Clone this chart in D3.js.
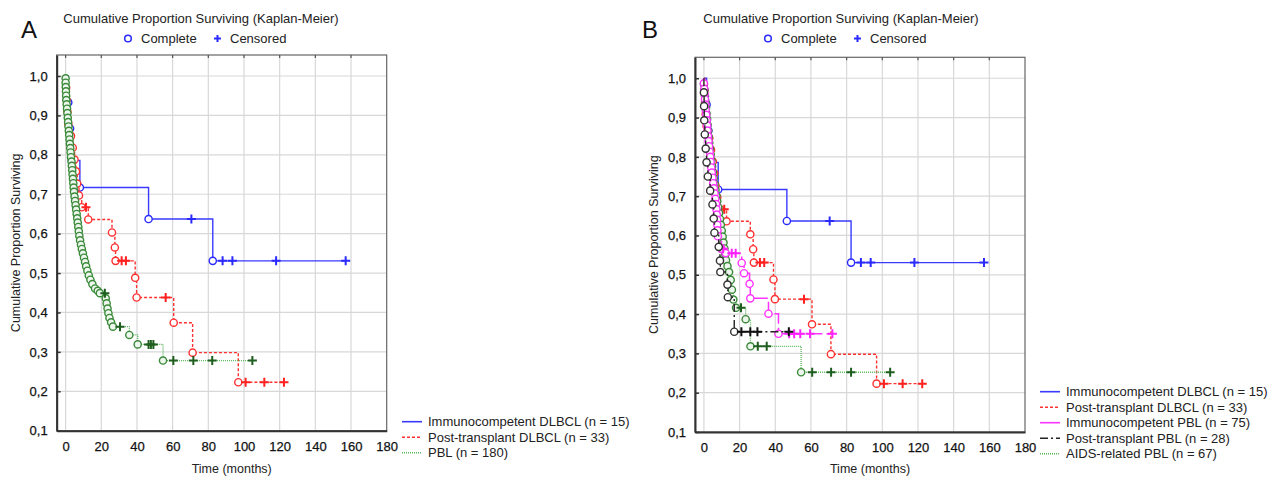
<!DOCTYPE html>
<html>
<head>
<meta charset="utf-8">
<script src="https://cdn.jsdelivr.net/npm/d3@7"></script>
<style>
  body { margin: 0; background: #fff; }
  svg { font-family: "Liberation Sans", Arial, sans-serif; }
</style>
</head>
<body>
<svg id="chart" width="1275" height="478"></svg>
<script>
// axis values
var xTicks = [0, 20, 40, 60, 80, 100, 120, 140, 160, 180];
var yTicks = [0.1, 0.2, 0.3, 0.4, 0.5, 0.6, 0.7, 0.8, 0.9, 1.0];
var yTickLabels = ["0,1", "0,2", "0,3", "0,4", "0,5", "0,6", "0,7", "0,8", "0,9", "1,0"];

// Immunocompetent DLBCL (n = 15) - same in both panels
var immDlbclTime = [1.5, 2.5, 3.5, 8, 46.5, 82.5];
var immDlbclSurv = [0.933, 0.867, 0.786, 0.717, 0.637, 0.531];
var immDlbclCens = [70.5, 88, 93.5, 118, 157];

// Post-transplant DLBCL (n = 33) - same in both panels
var ptDlbclTime = [0.3, 0.6, 1, 1.5, 3, 4, 5, 5.8, 6.5, 7.5, 9, 12.7, 26, 27.6, 28, 39, 39.8, 60.6, 71.2, 96.8];
var ptDlbclSurv = [0.970, 0.939, 0.909, 0.879, 0.848, 0.818, 0.788, 0.758, 0.727, 0.697, 0.667, 0.636, 0.603, 0.565, 0.531, 0.488, 0.438, 0.374, 0.298, 0.223];
var ptDlbclCens = [11.4, 31.4, 33.8, 56.1, 100.9, 111.4, 122.4];

// PBL (n = 180) - panel A
var pblTime = [0, 0, 0.1, 0.2, 0.3, 0.4, 0.6, 0.8, 1.0, 1.2, 1.4, 1.6, 1.8, 2.0, 2.2, 2.4, 2.6, 2.8, 3.0, 3.3,
  3.5, 3.7, 3.9, 4.1, 4.3, 4.5, 4.7, 5.0, 5.3, 5.6, 5.9, 6.2, 6.5, 6.8, 7.1, 7.4, 7.7, 8.1, 8.6, 9.1,
  9.7, 10.3, 10.9, 11.5, 12.2, 13.0, 13.9, 15.0, 16.5, 18.0, 19.2, 22.5, 23.0, 23.5, 24.0, 24.6, 25.5, 26.5, 35.7, 40.4, 54.6];
var pblSurv = [0.994, 0.983, 0.972, 0.961, 0.950, 0.939, 0.928, 0.917, 0.906, 0.894, 0.883, 0.872, 0.861, 0.850, 0.839, 0.828, 0.817, 0.806, 0.794, 0.783,
  0.772, 0.761, 0.750, 0.739, 0.728, 0.717, 0.706, 0.694, 0.683, 0.672, 0.661, 0.650, 0.639, 0.628, 0.617, 0.606, 0.594, 0.583, 0.572, 0.561,
  0.550, 0.539, 0.528, 0.517, 0.506, 0.494, 0.483, 0.472, 0.461, 0.455, 0.449, 0.436, 0.423, 0.410, 0.398, 0.386, 0.375, 0.364, 0.343, 0.319, 0.278];
var pblCens = [22, 30.5, 46.5, 47.8, 49.2, 60.4, 71.6, 82.2, 104.7];

// Immunocompetent PBL (n = 75) - panel B
var immPblTime = [0, 0.2, 0.4, 0.6, 0.8, 1.0, 1.3, 1.6, 1.8, 2.0, 2.3, 2.6, 2.9, 3.2, 3.5, 3.8, 4.1, 4.4, 4.8, 5.2,
  5.6, 6.0, 6.4, 6.8, 7.0, 7.2, 7.4, 7.5, 7.6, 7.8, 9.8, 12.2, 21.2, 22.5, 25.6, 26.0, 36.2, 41.8];
var immPblSurv = [0.987, 0.973, 0.960, 0.947, 0.933, 0.920, 0.907, 0.893, 0.880, 0.867, 0.853, 0.840, 0.827, 0.813, 0.800, 0.787, 0.773, 0.760, 0.747, 0.733,
  0.720, 0.707, 0.693, 0.680, 0.667, 0.653, 0.640, 0.627, 0.613, 0.598, 0.566, 0.555, 0.530, 0.504, 0.477, 0.440, 0.401, 0.350];
var immPblCens = [10.8, 15.6, 17.8, 47.8, 50.6, 54, 59.5, 72];

// Post-transplant PBL (n = 28) - panel B
var ptPblTime = [0, 0.1, 0.2, 0.5, 1.0, 1.5, 2.2, 3.5, 4.8, 5.5, 5.9, 8.3, 9.0, 9.2, 13.2, 13.4, 17.0];
var ptPblSurv = [0.964, 0.929, 0.893, 0.857, 0.821, 0.786, 0.750, 0.714, 0.679, 0.643, 0.607, 0.571, 0.536, 0.507, 0.475, 0.443, 0.355];
var ptPblCens = [21, 26, 30, 47.6];

// AIDS-related PBL (n = 67) - panel B
var aidsPblTime = [0, 0.3, 0.6, 0.9, 1.2, 1.5, 1.8, 2.1, 2.4, 2.7, 3.0, 3.4, 3.8, 4.2, 4.6, 5.0, 5.5, 6.0, 6.5, 7.0,
  7.5, 8.0, 8.5, 9.0, 9.5, 10.0, 10.5, 11.0, 11.5, 12.0, 12.4, 13.2, 14.1, 15.0, 15.7, 16.5, 18.0, 23.4, 26.1, 54.5];
var aidsPblSurv = [0.985, 0.970, 0.955, 0.940, 0.925, 0.910, 0.896, 0.881, 0.866, 0.851, 0.836, 0.821, 0.806, 0.791, 0.776, 0.761, 0.746, 0.731, 0.716, 0.701,
  0.687, 0.672, 0.657, 0.642, 0.627, 0.612, 0.597, 0.582, 0.567, 0.552, 0.537, 0.522, 0.507, 0.487, 0.462, 0.437, 0.416, 0.387, 0.318, 0.252];
var aidsPblCens = [20.8, 30.2, 35.2, 60.7, 71.3, 82.5, 104.4];

var styles = {
  immDlbcl: {line: "#3a3aff", mark: "#2a2aff", fill: "#fff", cens: "#2a2aff", dash: null, width: 1.4},
  ptDlbcl: {line: "#ff3030", mark: "#ff3030", fill: "#fff", cens: "#ff2020", dash: "3,2", width: 1.4},
  pbl: {line: "#5cb85c", mark: "#3a8a3a", fill: "#eef7ee", cens: "#1e5e1e", dash: "1,1", width: 1.3},
  immPbl: {line: "#ff33ff", mark: "#ff33ff", fill: "#fff", cens: "#ff22ff", dash: "14,4", width: 1.5},
  ptPbl: {line: "#222", mark: "#333", fill: "#fff", cens: "#111", dash: "8,3,2,3", width: 1.4}
};

var svg = d3.select("#chart");

function survAt(times, surv, t) {
  var s = 1;
  for (var i = 0; i < times.length; i++) { if (times[i] <= t) s = surv[i]; }
  return s;
}

function drawPanel(p) {
  var g = svg.append("g");
  var x = d3.scaleLinear().domain([-5, 180]).range([p.left, p.right]);
  var y = d3.scaleLinear().domain([0.1, 1.0533]).range([p.bottom, p.top]);

  // grid
  g.append("g").selectAll("line").data(xTicks.filter(function(d){ return d < 180; }))
    .enter().append("line")
    .attr("x1", function(d){ return x(d); }).attr("x2", function(d){ return x(d); })
    .attr("y1", p.top).attr("y2", p.bottom)
    .style("stroke", "#d8d8d8").style("stroke-width", 1.2);
  g.append("g").selectAll("line").data(yTicks.filter(function(d){ return d > 0.1; }))
    .enter().append("line")
    .attr("y1", function(d){ return y(d); }).attr("y2", function(d){ return y(d); })
    .attr("x1", p.left).attr("x2", p.right)
    .style("stroke", "#d8d8d8").style("stroke-width", 1.2);

  // frame
  g.append("rect").attr("x", p.left).attr("y", p.top)
    .attr("width", p.right - p.left).attr("height", p.bottom - p.top)
    .style("fill", "none").style("stroke", "#666").style("stroke-width", 1.2);

  // axes
  var yAxis = d3.axisLeft(y).tickValues(yTicks)
    .tickFormat(function(d, i){ return yTickLabels[i]; })
    .tickSizeInner(-4).tickSizeOuter(0).tickPadding(9);
  var ya = g.append("g").attr("transform", "translate(" + p.left + ",0)").call(yAxis);
  var xAxis = d3.axisBottom(x).tickValues(xTicks).tickSizeInner(0).tickSizeOuter(0).tickPadding(11);
  var xa = g.append("g").attr("transform", "translate(0," + p.bottom + ")").call(xAxis);
  [ya, xa].forEach(function(a){
    a.select(".domain").style("stroke", "#333").style("stroke-width", 2);
    a.selectAll(".tick line").style("stroke", "#333").style("stroke-width", 1.5);
    a.selectAll("text").style("font-size", "13px").style("fill", "#111")
      .style("stroke", "#111").style("stroke-width", 0.25)
      .style("font-family", "'Liberation Sans', Arial, sans-serif");
  });
  // top tick marks
  g.append("g").selectAll("line").data(xTicks.filter(function(d){ return d < 180; }))
    .enter().append("line")
    .attr("x1", function(d){ return x(d); }).attr("x2", function(d){ return x(d); })
    .attr("y1", p.top).attr("y2", p.top + 3)
    .style("stroke", "#555").style("stroke-width", 1.2);

  // series
  var line = d3.line().x(function(d){ return x(d[0]); }).y(function(d){ return y(d[1]); }).curve(d3.curveStepAfter);
  p.series.forEach(function(s){
    var st = styles[s.style];
    var pts = [[0, 1]];
    s.time.forEach(function(t, i){ pts.push([t, s.surv[i]]); });
    var tEnd = Math.max(d3.max(s.time), d3.max(s.cens));
    pts.push([tEnd, survAt(s.time, s.surv, tEnd)]);
    var sg = g.append("g");
    sg.append("path").attr("d", line(pts))
      .style("fill", "none").style("stroke", st.line).style("stroke-width", st.width)
      .style("stroke-dasharray", st.dash);
    sg.selectAll("circle").data(s.time.map(function(t, i){ return [t, s.surv[i]]; }))
      .enter().append("circle")
      .attr("cx", function(d){ return x(d[0]); }).attr("cy", function(d){ return y(d[1]); })
      .attr("r", 3.6)
      .style("fill", st.fill).style("stroke", st.mark).style("stroke-width", 1.4);
    sg.selectAll("path.cens").data(s.cens.map(function(t){ return [t, survAt(s.time, s.surv, t)]; }))
      .enter().append("path").attr("class", "cens")
      .attr("d", function(d){
        var cx = x(d[0]), cy = y(d[1]);
        return "M" + (cx - 4.5) + "," + cy + "H" + (cx + 4.5) + "M" + cx + "," + (cy - 4.5) + "V" + (cy + 4.5);
      })
      .style("stroke", st.cens).style("stroke-width", 2);
  });

  // panel letter
  g.append("text").attr("x", p.letterX).attr("y", 38).text(p.letter)
    .style("font-size", "24px").style("fill", "#111");
  // title and marker legend
  g.append("text").attr("x", p.titleX).attr("y", 23).attr("text-anchor", "middle")
    .text("Cumulative Proportion Surviving (Kaplan-Meier)")
    .style("font-size", "13px").style("fill", "#222");
  g.append("circle").attr("cx", p.titleX - 73).attr("cy", 38.5).attr("r", 3.3)
    .style("fill", "#fff").style("stroke", "#2a2aff").style("stroke-width", 1.5);
  g.append("text").attr("x", p.titleX - 60).attr("y", 43).text("Complete")
    .style("font-size", "13px").style("fill", "#222");
  g.append("path").attr("d", "M" + (p.titleX + 13) + ",38.5h7M" + (p.titleX + 16.5) + ",35v7")
    .style("stroke", "#2a2aff").style("stroke-width", 2);
  g.append("text").attr("x", p.titleX + 29).attr("y", 43).text("Censored")
    .style("font-size", "13px").style("fill", "#222");

  // axis titles
  g.append("text").attr("x", (p.left + p.right) / 2 + 10).attr("y", 473).attr("text-anchor", "middle")
    .text("Time (months)").style("font-size", "12.5px").style("fill", "#222");
  g.append("text").attr("transform", "translate(" + (p.left - 37) + "," + ((p.top + p.bottom) / 2) + ") rotate(-90)")
    .attr("text-anchor", "middle").text("Cumulative Proportion Surviving")
    .style("font-size", "12.5px").style("fill", "#222");

  // series legend
  p.legend.forEach(function(l, i){
    var st = styles[l.style];
    var ly = p.legendY + i * 15.5;
    g.append("line").attr("x1", p.legendX).attr("x2", p.legendX + 20)
      .attr("y1", ly).attr("y2", ly)
      .style("stroke", st.line).style("stroke-width", 1.6).style("stroke-dasharray", l.style === "immPbl" ? null : st.dash);
    g.append("text").attr("x", p.legendX + 26).attr("y", ly + 4.5).text(l.label)
      .style("font-size", "13px").style("fill", "#222");
  });
}

drawPanel({
  left: 56.7, right: 386.7, top: 55, bottom: 430.7,
  letter: "A", letterX: 21, titleX: 201,
  legendX: 402, legendY: 421.7,
  series: [
    {time: immDlbclTime, surv: immDlbclSurv, cens: immDlbclCens, style: "immDlbcl"},
    {time: ptDlbclTime, surv: ptDlbclSurv, cens: ptDlbclCens, style: "ptDlbcl"},
    {time: pblTime, surv: pblSurv, cens: pblCens, style: "pbl"}
  ],
  legend: [
    {label: "Immunocompetent DLBCL (n = 15)", style: "immDlbcl"},
    {label: "Post-transplant DLBCL (n = 33)", style: "ptDlbcl"},
    {label: "PBL (n = 180)", style: "pbl"}
  ]
});

drawPanel({
  left: 695, right: 1025, top: 57.3, bottom: 432,
  letter: "B", letterX: 642, titleX: 841,
  legendX: 1040, legendY: 391.7,
  series: [
    {time: immDlbclTime, surv: immDlbclSurv, cens: immDlbclCens, style: "immDlbcl"},
    {time: ptDlbclTime, surv: ptDlbclSurv, cens: ptDlbclCens, style: "ptDlbcl"},
    {time: aidsPblTime, surv: aidsPblSurv, cens: aidsPblCens, style: "pbl"},
    {time: immPblTime, surv: immPblSurv, cens: immPblCens, style: "immPbl"},
    {time: ptPblTime, surv: ptPblSurv, cens: ptPblCens, style: "ptPbl"}
  ],
  legend: [
    {label: "Immunocompetent DLBCL (n = 15)", style: "immDlbcl"},
    {label: "Post-transplant DLBCL (n = 33)", style: "ptDlbcl"},
    {label: "Immunocompetent PBL (n = 75)", style: "immPbl"},
    {label: "Post-transplant PBL (n = 28)", style: "ptPbl"},
    {label: "AIDS-related PBL (n = 67)", style: "pbl"}
  ]
});
</script>
</body>
</html>
